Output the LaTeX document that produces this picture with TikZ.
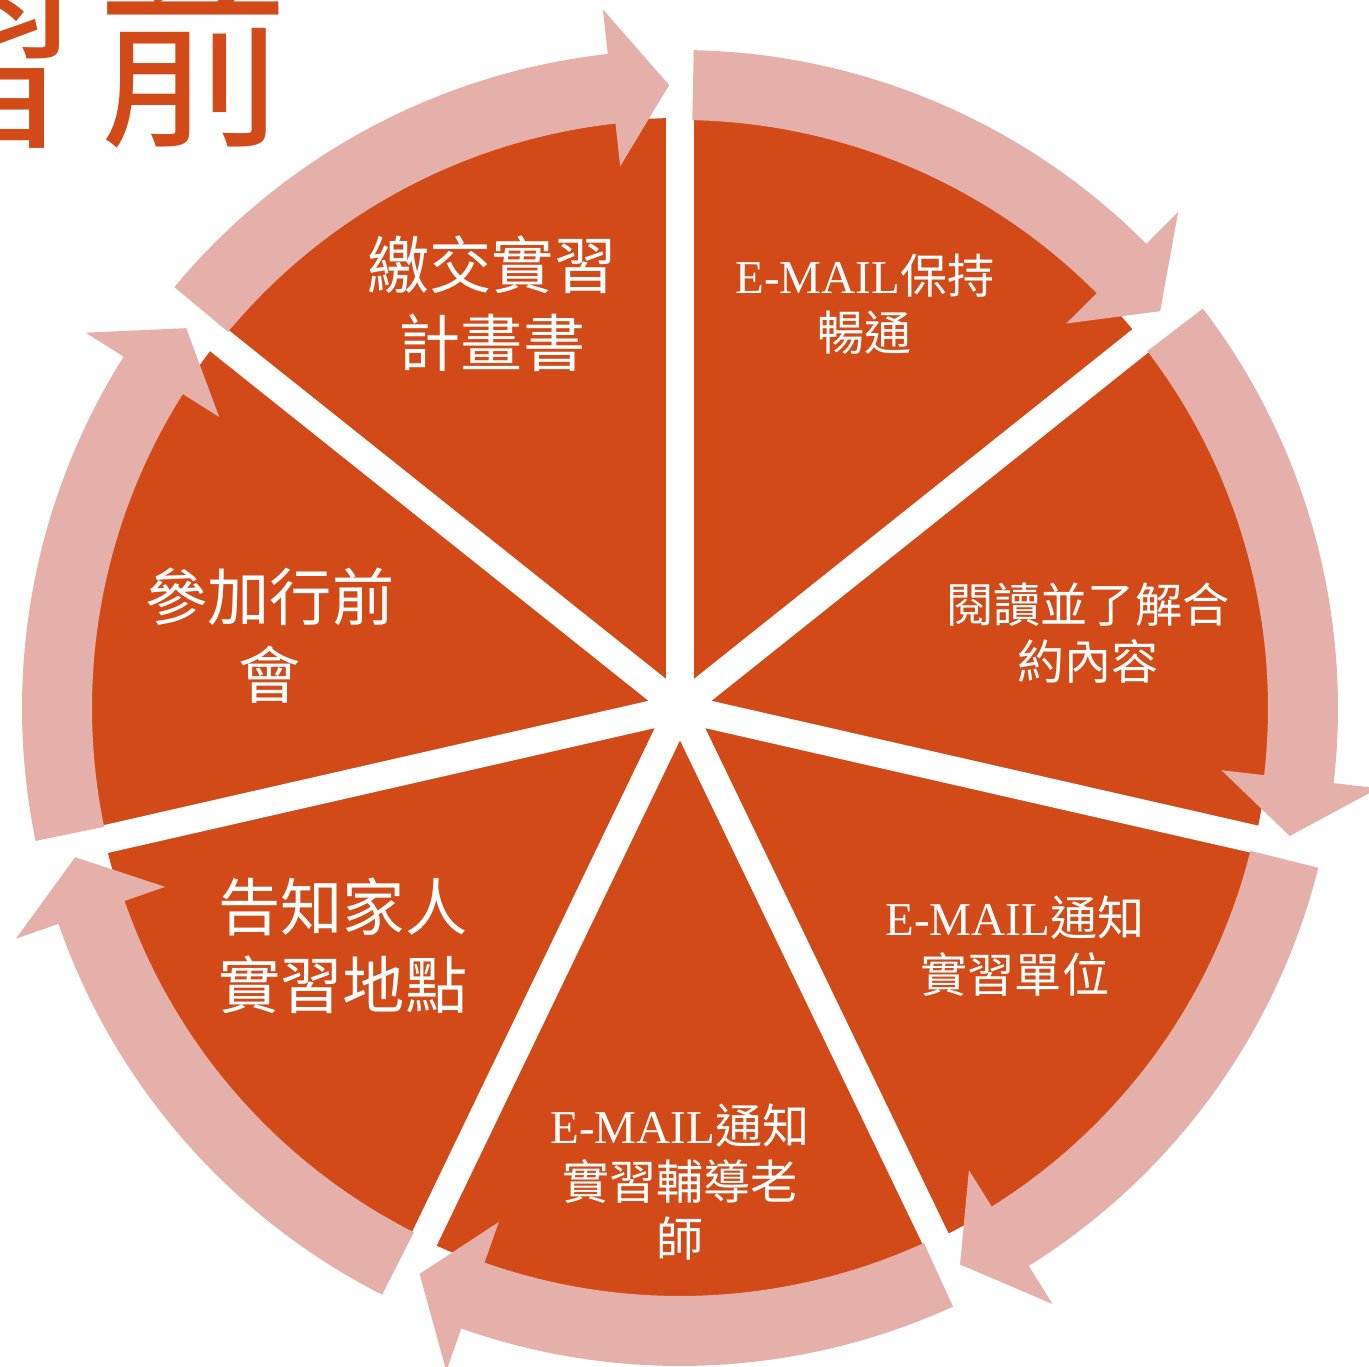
\documentclass[tikz,border=0pt]{standalone}
\usepackage{fontspec}
\setmainfont{Liberation Serif}
\newfontfamily\cjk{Noto Sans CJK TC}

\definecolor{segorange}{RGB}{209,74,24}
\definecolor{arrowpink}{RGB}{230,176,170}

\def\gapangle{51.4286}
\def\emailtext{{\rmfamily E-MAIL}}

\tikzset{
  bigtext/.style={text=white, align=center, inner sep=0pt,
    font=\cjk\fontsize{17.7}{22.2}\selectfont},
  smalltext/.style={text=white, align=center, inner sep=0pt,
    font=\cjk\fontsize{13.4}{16.2}\selectfont},
  titletext/.style={text=segorange, inner sep=0pt,
    font=\cjk\fontsize{54.5}{62}\selectfont}
}

\begin{document}
\begin{tikzpicture}[x=0.1mm,y=0.1mm]
    \useasboundingbox (-680,-658) rectangle (689,708);

    % title, cut by the page
    \node[titletext, anchor=base east] (title) at (-390,576) {習\hspace{2mm}前};

    % pie and its gaps
    \fill[segorange] (0,0) circle (590);
    \foreach \k in {0,...,6} {
      \draw[white, line width=2.8mm] (0,0) -- ({90-\k*\gapangle}:600);
    }

    % the arrows round the pie
    \foreach \k in {0,...,6} {
      \pgfmathsetmacro\ta{141.4286-\k*\gapangle-1.2}
      \pgfmathsetmacro\tp{141.4286-(\k+1)*\gapangle+1.0}
      \pgfmathsetmacro\hb{\tp+5.3}
      \fill[arrowpink] (\ta:658) arc[start angle=\ta, end angle=\hb, radius=658]
        -- (\hb:703) -- (\tp:623) -- (\hb:545) -- (\hb:588)
        arc[start angle=\hb, end angle=\ta, radius=588] -- cycle;
    }

    \node[bigtext] (plan) at (-188,404) {繳交實習\\計畫書};
    \node[smalltext] (mail) at (185,404) {\emailtext 保持\\暢通};
    \node[smalltext] (contract) at (408,75) {閱讀並了解合\\約內容};
    \node[smalltext] (unit) at (335,-238) {\emailtext 通知\\實習單位};
    \node[smalltext] (teacher) at (0,-474) {\emailtext 通知\\實習輔導老\\師};
    \node[bigtext] (family) at (-337,-238) {告知家人\\實習地點};
    \node[bigtext] (meeting) at (-410,72) {參加行前\\會};

\end{tikzpicture}
\end{document}
